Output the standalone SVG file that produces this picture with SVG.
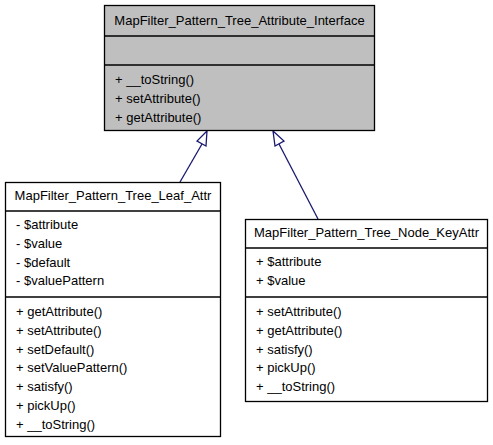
<svg xmlns="http://www.w3.org/2000/svg" width="493" height="445" viewBox="0 0 493 445">
<style>
.box{stroke:#000;stroke-width:1.3}
text{font-family:"Liberation Sans",Arial,sans-serif;font-size:13px;fill:#000}
.c{text-anchor:middle}
.e{stroke:#191970;stroke-width:1.3;fill:none}
.h{stroke:#191970;stroke-width:1.3;fill:#fff}
</style>
<rect width="493" height="445" fill="#fff"/>
<g id="connectors">
<line class="e" x1="180" y1="182" x2="202" y2="144"/>
<polygon class="h" points="207,131 197,141 206,146"/>
<line class="e" x1="318" y1="219" x2="279" y2="144"/>
<polygon class="h" points="273,131 275,146 284,141"/>
</g>
<g id="node-interface">
<rect class="box" x="104.5" y="5.5" width="270" height="125" fill="#bfbfbf"/>
<line class="box" x1="104.5" y1="36" x2="374.5" y2="36"/>
<line class="box" x1="104.5" y1="65" x2="374.5" y2="65"/>
<text class="c" x="239.5" y="25">MapFilter_Pattern_Tree_Attribute_Interface</text>
<text x="115" y="84">+ __toString()</text>
<text x="115" y="103">+ setAttribute()</text>
<text x="115" y="122">+ getAttribute()</text>
</g>
<g id="node-leaf">
<rect class="box" x="5.5" y="182.5" width="215" height="254" fill="#fff"/>
<line class="box" x1="5.5" y1="211" x2="220.5" y2="211"/>
<line class="box" x1="5.5" y1="297" x2="220.5" y2="297"/>
<text class="c" x="113" y="200">MapFilter_Pattern_Tree_Leaf_Attr</text>
<text x="16" y="229">- $attribute</text>
<text x="16" y="248">- $value</text>
<text x="16" y="267">- $default</text>
<text x="16" y="285">- $valuePattern</text>
<text x="16" y="316">+ getAttribute()</text>
<text x="16" y="335">+ setAttribute()</text>
<text x="16" y="354">+ setDefault()</text>
<text x="16" y="372">+ setValuePattern()</text>
<text x="16" y="391">+ satisfy()</text>
<text x="16" y="410">+ pickUp()</text>
<text x="16" y="429">+ __toString()</text>
</g>
<g id="node-keyattr">
<rect class="box" x="245.5" y="219.5" width="242" height="182" fill="#fff"/>
<line class="box" x1="245.5" y1="248" x2="487.5" y2="248"/>
<line class="box" x1="245.5" y1="297" x2="487.5" y2="297"/>
<text class="c" x="366.5" y="237">MapFilter_Pattern_Tree_Node_KeyAttr</text>
<text x="256" y="266">+ $attribute</text>
<text x="256" y="285">+ $value</text>
<text x="256" y="316">+ setAttribute()</text>
<text x="256" y="335">+ getAttribute()</text>
<text x="256" y="354">+ satisfy()</text>
<text x="256" y="372">+ pickUp()</text>
<text x="256" y="391">+ __toString()</text>
</g>
</svg>
